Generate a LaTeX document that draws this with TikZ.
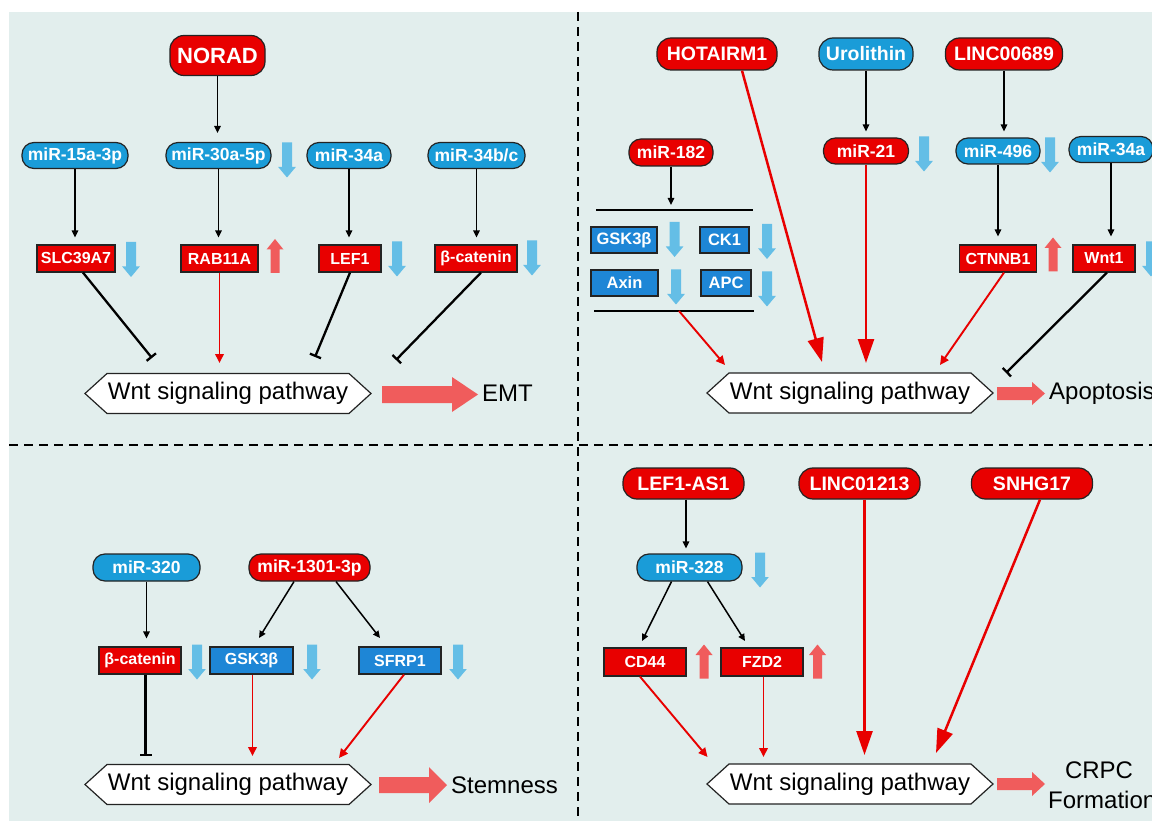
\documentclass[tikz,border=0pt]{standalone}
\usepackage{fontspec}
\setmainfont{Liberation Sans}
\usetikzlibrary{arrows.meta}
\definecolor{myred}{RGB}{232,0,0}
\definecolor{myblue}{RGB}{26,156,216}
\definecolor{myblueb}{RGB}{30,134,214}
\definecolor{lblue}{RGB}{100,190,230}
\definecolor{lred}{RGB}{240,92,92}
\definecolor{bgc}{RGB}{226,238,237}
\definecolor{bord}{RGB}{35,35,35}
\tikzset{
  pill/.style={draw=bord, line width=1.2pt, rounded corners=12pt, inner sep=0pt, text=white,
    font=\bfseries\fontsize{17.5pt}{17.5pt}\selectfont, minimum height=26pt},
  redpill/.style={pill, fill=myred},
  bluepill/.style={pill, fill=myblue},
  bigp/.style={font=\bfseries\fontsize{19.5pt}{19.5pt}\selectfont, minimum height=32pt, rounded corners=14pt},
  boxx/.style={draw=bord, line width=1.2pt, inner sep=0pt, text=white,
    font=\bfseries\fontsize{16pt}{16pt}\selectfont, minimum height=27pt},
  redbox/.style={boxx, fill=myred},
  bluebox/.style={boxx, fill=myblueb},
  outtxt/.style={inner sep=0pt, font=\fontsize{24pt}{24pt}\selectfont},
  blk/.style={line width=1.5pt, -{Triangle[length=7pt,width=6.5pt]}},
  tbar/.style={line width=2.3pt, -{Bar[width=12pt]}},
  rthin/.style={myred, line width=1.9pt, -{Triangle[length=9pt,width=8.5pt]}},
  rthick/.style={myred, line width=2.5pt, -{Triangle[length=24pt,width=16pt]}},
  bracket/.style={line width=1.8pt},
  dashline/.style={line width=1.8pt, dash pattern=on 9pt off 6pt},
  dnarr/.pic={\fill[lblue] (-5,-17.5) -- (5,-17.5) -- (5,7) -- (8.8,7) -- (0,17.5) -- (-8.8,7) -- (-5,7) -- cycle;},
  uparr/.pic={\fill[lred] (-4.5,17) -- (4.5,17) -- (4.5,-6.5) -- (8.5,-6.5) -- (0,-17) -- (-8.5,-6.5) -- (-4.5,-6.5) -- cycle;},
  pics/wnt/.style={code={
    \draw[draw=bord, line width=1.2pt, fill=white] (-143,0) -- (-121,-20) -- (121,-20) -- (143,0) -- (121,20) -- (-121,20) -- cycle;
    \node[outtxt] (-n) at (0,0) {Wnt signaling pathway};
  }},
}
\begin{document}
\begin{tikzpicture}[x=1pt,y=-1pt]
\useasboundingbox (0,0) rectangle (1152,821);
\clip (0,0) rectangle (1152,821);
\fill[bgc] (9,12) rectangle (1152,821);
\draw[dashline] (578,12) -- (578,821);
\draw[dashline] (9,445) -- (1152,445);

% ---------- top left ----------
\node[redpill, font=\bfseries\fontsize{22pt}{22pt}\selectfont, minimum width=95pt, minimum height=40pt, rounded corners=14pt] (norad) at (217.5,55.5) {NORAD};
\node[bluepill, minimum width=106pt] (m15) at (75,155.5) {miR-15a-3p};
\node[bluepill, minimum width=105pt] (m30) at (218.5,155.5) {miR-30a-5p};
\node[bluepill, minimum width=84pt] (m34a) at (349,155.5) {miR-34a};
\node[bluepill, minimum width=97pt] (m34bc) at (476.5,155.5) {miR-34b/c};
\node[redbox, minimum width=78pt] (slc) at (76,258.5) {SLC39A7};
\node[redbox, minimum width=77pt] (rab) at (219.5,258.5) {RAB11A};
\node[redbox, minimum width=62pt] (lef) at (350,258.5) {LEF1};
\node[redbox, minimum width=82pt] (bcat) at (476,258.5) {β-catenin};
\pic at (287,160) {dnarr};
\pic at (131,259.5) {dnarr};
\pic at (397,259) {dnarr};
\pic at (532,258) {dnarr};
\pic at (275,256) {uparr};
\pic (wA) at (228,393.5) {wnt};

\draw[blk, shorten >=9pt] (norad) -- (norad |- m30.north);
\draw[blk, shorten >=7pt] (m15) -- (m15 |- slc.north);
\draw[blk, shorten >=7pt] (m30) -- (m30 |- rab.north);
\draw[blk, shorten >=7pt] (m34a) -- (m34a |- lef.north);
\draw[blk, shorten >=7pt] (m34bc) -- (m34bc |- bcat.north);
\coordinate (tA1) at (152,358);
\coordinate (aA2) at (219.5,363);
\coordinate (tA3) at (315,357);
\coordinate (tA4) at (396,360);
\draw[tbar] ([xshift=7pt]slc.south) -- (tA1);
\draw[rthin] (rab.south) -- (aA2);
\draw[tbar] (lef.south) -- (tA3);
\draw[tbar] ([xshift=5pt]bcat.south) -- (tA4);
\node[outtxt, anchor=west] (emt) at (482,393) {EMT};
\fill[lred] (382,386) -- (452,386) -- (452,377) -- (478,394.5) -- (452,412) -- (452,403) -- (382,403) -- cycle;

% ---------- top right ----------
\node[redpill, bigp, minimum width=120pt] (hot) at (717,54) {HOTAIRM1};
\node[bluepill, bigp, minimum width=94pt] (uro) at (866,54) {Urolithin};
\node[redpill, bigp, minimum width=117pt] (l689) at (1004,54) {LINC00689};
\node[redpill, minimum width=84pt, minimum height=27pt] (m182) at (671,152.5) {miR-182};
\node[redpill, minimum width=85pt] (m21) at (866,151) {miR-21};
\node[bluepill, minimum width=84pt] (m496) at (998,151) {miR-496};
\node[bluepill, minimum width=84pt] (m34r) at (1111,149.5) {miR-34a};
\coordinate (brTl) at (596,210);
\coordinate (brTr) at (753,210);
\coordinate (brBl) at (594,311);
\coordinate (brBr) at (754,311);
\coordinate (brBo) at (679,311);
\draw[bracket] (brTl) -- (brTr);
\draw[bracket] (brBl) -- (brBr);
\node[bluebox, minimum width=66pt, minimum height=26pt, font=\bfseries\fontsize{16.5pt}{16.5pt}\selectfont] (gsk) at (624,240) {GSK3β};
\node[bluebox, minimum width=49pt, minimum height=26pt, font=\bfseries\fontsize{16.5pt}{16.5pt}\selectfont] (ck1) at (724.5,240) {CK1};
\node[bluebox, minimum width=67pt, minimum height=26pt, font=\bfseries\fontsize{16.5pt}{16.5pt}\selectfont] (axin) at (624.5,283) {Axin};
\node[bluebox, minimum width=50pt, minimum height=26pt, font=\bfseries\fontsize{16.5pt}{16.5pt}\selectfont] (apc) at (726,283) {APC};
\pic at (674.6,239.5) {dnarr};
\pic at (767,241.5) {dnarr};
\pic at (676,287) {dnarr};
\pic at (767,289) {dnarr};
\pic at (924,154) {dnarr};
\pic at (1050,155) {dnarr};
\pic at (1151,259) {dnarr};
\node[redbox, minimum width=77pt] (ctn) at (998,258.5) {CTNNB1};
\pic at (1053,254.5) {uparr};
\node[redbox, minimum width=62pt] (wnt1) at (1104,258.5) {Wnt1};
\pic (wB) at (850,393) {wnt};

\draw[blk, shorten >=5pt] (m182) -- (m182 |- brTl);
\coordinate (aB1) at (725,365);
\draw[rthin] (brBo) -- (aB1);
\coordinate (aB2) at (822,362);
\draw[rthick] ([xshift=25pt]hot.south) -- (aB2);
\draw[blk, shorten >=6pt] (uro) -- (uro |- m21.north);
\coordinate (aB3) at (866,363);
\draw[rthick] (m21.south) -- (aB3);
\draw[blk, shorten >=6pt] (l689) -- (l689 |- m496.north);
\draw[blk, shorten >=8pt] (m496) -- (m496 |- ctn.north);
\draw[blk, shorten >=8pt] (m34r) -- (m34r |- wnt1.north);
\coordinate (aB4) at (940,365);
\draw[rthin] ([xshift=6pt]ctn.south) -- (aB4);
\coordinate (tB5) at (1006,373);
\draw[tbar] ([xshift=3pt]wnt1.south) -- (tB5);
\fill[lred] (997,387) -- (1032,387) -- (1032,382) -- (1045,393.5) -- (1032,405) -- (1032,400) -- (997,400) -- cycle;
\node[outtxt, anchor=west] (apo) at (1049,393) {Apoptosis};

% ---------- bottom left ----------
\node[bluepill, minimum width=107pt, minimum height=27pt] (m320) at (146.5,567.5) {miR-320};
\node[redpill, minimum width=121pt, minimum height=27pt] (m1301) at (309.5,567.5) {miR-1301-3p};
\node[redbox, minimum width=82pt] (bcat2) at (140,660.5) {β-catenin};
\node[bluebox, minimum width=83pt] (gsk2) at (251.5,660.5) {GSK3β};
\node[bluebox, minimum width=82pt] (sfrp) at (400,660.5) {SFRP1};
\pic at (197,662) {dnarr};
\pic at (312,662) {dnarr};
\pic at (458,662) {dnarr};
\pic (wC) at (228,784.5) {wnt};
\draw[blk, shorten >=8pt] (m320) -- (m320 |- bcat2.north);
\coordinate (aC1) at (259,638);
\coordinate (aC2) at (380,638);
\draw[blk] ([xshift=-15.5pt]m1301.south) -- (aC1);
\draw[blk] ([xshift=26.5pt]m1301.south) -- (aC2);
\coordinate (tC3) at (145.5,756);
\coordinate (aC4) at (252.5,756);
\coordinate (aC5) at (339,758);
\draw[tbar] ([xshift=5.5pt]bcat2.south) -- (tC3);
\draw[rthin] ([xshift=1pt]gsk2.south) -- (aC4);
\draw[rthin] ([xshift=4pt]sfrp.south) -- (aC5);
\fill[lred] (379,777) -- (429,777) -- (429,767) -- (447,785) -- (429,803) -- (429,793) -- (379,793) -- cycle;
\node[outtxt, anchor=west] (stem) at (451,785) {Stemness};

% ---------- bottom right ----------
\node[redpill, bigp, minimum width=121pt, minimum height=31pt] (lefas) at (683.5,483.5) {LEF1-AS1};
\node[redpill, bigp, minimum width=121pt, minimum height=31pt] (l1213) at (859.5,483.5) {LINC01213};
\node[redpill, bigp, minimum width=121pt, minimum height=31pt] (snhg) at (1032,483.5) {SNHG17};
\node[bluepill, minimum width=105pt, minimum height=27pt] (m328) at (689.5,567.5) {miR-328};
\pic at (760,570) {dnarr};
\node[redbox, minimum width=82pt, minimum height=28pt] (cd44) at (645,662) {CD44};
\pic at (704,661.5) {uparr};
\node[redbox, minimum width=82pt, minimum height=28pt] (fzd2) at (762,662) {FZD2};
\pic at (817.5,661.5) {uparr};
\pic (wD) at (850,784) {wnt};
\draw[blk, shorten >=5pt] ([xshift=2.5pt]lefas.south) -- ([xshift=2.5pt]lefas.south |- m328.north);
\coordinate (aD1) at (642,641);
\coordinate (aD2) at (745,641);
\draw[blk] ([xshift=-18pt]m328.south) -- (aD1);
\draw[blk] ([xshift=18pt]m328.south) -- (aD2);
\coordinate (aD3) at (707.5,757);
\coordinate (aD4) at (763.5,757);
\draw[rthin] ([xshift=-5pt]cd44.south) -- (aD3);
\draw[rthin] ([xshift=1.5pt]fzd2.south) -- (aD4);
\coordinate (aD5) at (864.5,755);
\coordinate (aD6) at (936,753);
\draw[rthick] ([xshift=5pt]l1213.south) -- (aD5);
\draw[rthick] ([xshift=8pt]snhg.south) -- (aD6);
\fill[lred] (997,778) -- (1032,778) -- (1032,772) -- (1045,784) -- (1032,796) -- (1032,790) -- (997,790) -- cycle;
\node[outtxt] (crpc) at (1099,770) {CRPC};
\node[outtxt, anchor=west] (form) at (1048,800) {Formation};
\end{tikzpicture}
\end{document}
